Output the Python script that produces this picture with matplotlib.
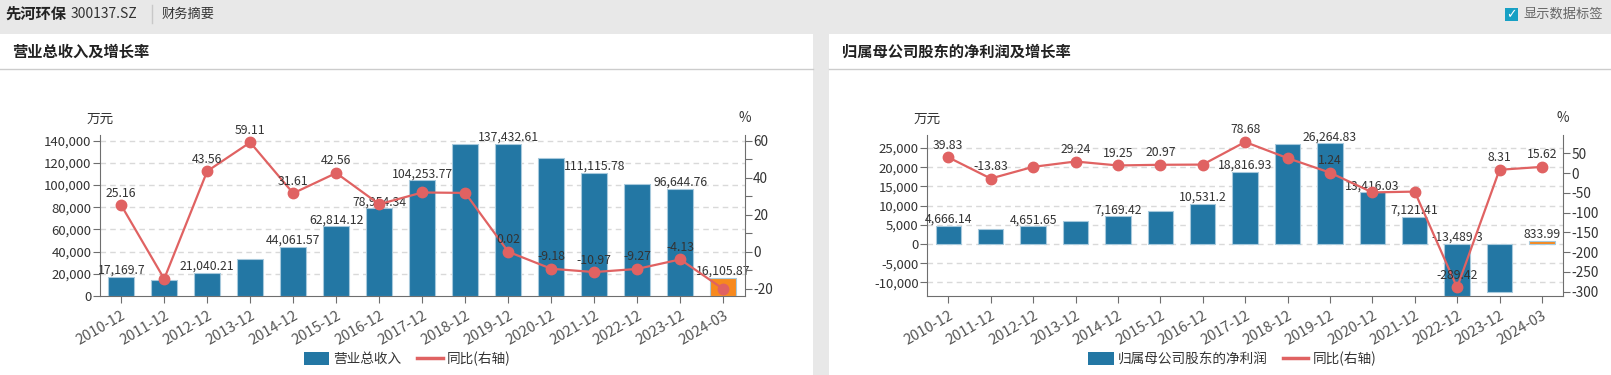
import matplotlib
matplotlib.use("Agg")
import matplotlib.pyplot as plt
from matplotlib.patches import Rectangle, Patch
from matplotlib.lines import Line2D

plt.rcParams['font.family'] = ['Noto Sans CJK SC', 'DejaVu Sans']
plt.rcParams['axes.unicode_minus'] = False

# ---- data ----
periods = ['2010-12', '2011-12', '2012-12', '2013-12', '2014-12', '2015-12', '2016-12', '2017-12',
           '2018-12', '2019-12', '2020-12', '2021-12', '2022-12', '2023-12', '2024-03']

revenue = [17169.7, 14656.0, 21040.21, 33477.0, 44061.57, 62814.12, 78954.34, 104253.77,
           137405.0, 137432.61, 124818.0, 111115.78, 100815.0, 96644.76, 16105.87]
revenue_yoy = [25.16, -14.64, 43.56, 59.11, 31.61, 42.56, 25.7, 32.04,
               31.8, 0.02, -9.18, -10.97, -9.27, -4.13, -20.1]

profit = [4666.14, 4020.8, 4651.65, 6011.8, 7169.42, 8672.8, 10531.2, 18816.93,
          25943.0, 26264.83, 13416.03, 7121.41, -13489.3, -12368.3, 833.99]
profit_yoy = [39.83, -13.83, 15.69, 29.24, 19.25, 20.97, 21.43, 78.68,
              37.87, 1.24, -48.92, -46.92, -289.42, 8.31, 15.62]

# which data labels are visible in the original (others hidden by overlap)
revenue_labels_on = [0, 2, 4, 5, 6, 7, 9, 11, 13, 14]
revenue_yoy_labels_on = [0, 2, 3, 4, 5, 9, 10, 11, 12, 13]
profit_labels_on = [0, 2, 4, 6, 7, 9, 10, 11, 12, 14]
profit_yoy_labels_on = [0, 1, 3, 4, 5, 7, 9, 12, 13, 14]

BG = '#e8e8e8'
BLUE = '#2377a4'
ORANGE = '#f7891e'
RED = '#e06262'
TXT = '#333333'
AXC = '#6e6e6e'

W, H = 1611, 375
fig = plt.figure(figsize=(W / 100, H / 100), dpi=100, facecolor=BG)


def fx(px):
    return px / W


def fy(py):
    return 1 - py / H


# panels
for x0, x1 in [(0, 813), (829, 1611)]:
    fig.add_artist(Rectangle((fx(x0), 0), fx(x1 - x0), fy(34), transform=fig.transFigure,
                             facecolor='white', edgecolor='none', zorder=0))
    fig.add_artist(Line2D([fx(x0), fx(x1)], [fy(69.3), fy(69.3)], transform=fig.transFigure,
                          color='#cccccc', lw=1, zorder=1))

# header
fig.text(fx(5), fy(14), '先河环保', fontsize=11, fontweight='bold', color='#222', va='center')
fig.text(fx(71), fy(14), '300137.SZ', fontsize=10, color='#333', va='center')
fig.add_artist(Line2D([fx(152), fx(152)], [fy(5), fy(23)], transform=fig.transFigure,
                      color='#c8c8c8', lw=1))
fig.text(fx(162), fy(14), '财务摘要', fontsize=9.5, color='#333', va='center')
fig.add_artist(Rectangle((fx(1505), fy(21)), fx(13), fy(8) - fy(21), transform=fig.transFigure,
                         facecolor='#17a0c4', edgecolor='none'))
fig.text(fx(1511.5), fy(14.5), '✓', fontsize=9, color='white', fontweight='bold',
         ha='center', va='center', family=['DejaVu Sans'])
fig.text(fx(1523), fy(14), '显示数据标签', fontsize=9.5, color='#666', va='center')

fig.text(fx(12), fy(52), '营业总收入及增长率', fontsize=11, fontweight='bold', color='#222', va='center')
fig.text(fx(842), fy(52), '归属母公司股东的净利润及增长率', fontsize=11, fontweight='bold', color='#222',
         va='center')


def fmt_num(v):
    return f'{v:,}'


def draw_chart(left_px, right_px, values, yoy, ylim, ylim2, yticks, y2ticks, y2labels,
               lab_on, yoy_on, legend_name, legend_cx):
    bottom_px, top_px = 296, 135
    ax = fig.add_axes([fx(left_px), fy(bottom_px), fx(right_px - left_px), (bottom_px - top_px) / H])
    ax.set_facecolor('none')
    x = list(range(len(periods)))
    colors = [ORANGE if p.endswith('-03') else BLUE for p in periods]
    ax.bar(x, values, width=0.6, color=colors, edgecolor='#a7c9dc', linewidth=0.8, zorder=3)
    ax.set_xlim(-0.5, len(periods) - 0.5)
    ax.set_ylim(*ylim)
    ax.set_yticks(yticks)
    ax.set_yticklabels([f'{int(t):,}' for t in yticks])
    for t in yticks:
        if t != 0 or ylim[0] < 0:
            ax.axhline(t, color='#d9d9d9', lw=1, ls=(0, (4, 3)), zorder=1)
    ax.set_xticks(x)
    ax.set_xticklabels(periods, rotation=30, ha='right', va='top', rotation_mode='anchor')
    ax.tick_params(axis='x', length=5, color=AXC, labelsize=10.5, labelcolor='#555', pad=4)
    ax.tick_params(axis='y', length=5, color=AXC, labelsize=9.5, labelcolor=TXT, pad=1)
    for s in ['top', 'right']:
        ax.spines[s].set_visible(False)
    for s in ['left', 'bottom']:
        ax.spines[s].set_color(AXC)
    for i in lab_on:
        v = values[i]
        ax.annotate(fmt_num(v), (i, max(v, 0)), xytext=(0, 0), textcoords='offset points',
                    ha='center', va='bottom', fontsize=8.8, color=TXT, zorder=5)

    ax2 = ax.twinx()
    ax2.plot(x, yoy, color=RED, lw=1.6, marker='o', markersize=7.5, zorder=4)
    ax2.set_ylim(*ylim2)
    ax2.set_yticks(y2ticks)
    ax2.set_yticklabels(y2labels)
    ax2.tick_params(axis='y', length=5, color=AXC, labelsize=9.8, labelcolor=TXT, pad=1)
    for s in ['top', 'left', 'bottom']:
        ax2.spines[s].set_visible(False)
    ax2.spines['right'].set_color(AXC)
    for i in yoy_on:
        ax2.annotate(str(yoy[i]), (i, yoy[i]), xytext=(0, 4), textcoords='offset points',
                     ha='center', va='bottom', fontsize=8.8, color=TXT, zorder=6)

    fig.text(fx(left_px), fy(119), '万元', fontsize=9.8, color=TXT, ha='center', va='center')
    fig.text(fx(right_px), fy(118), '%', fontsize=9.8, color=TXT, ha='center', va='center')

    handles = [Patch(facecolor=BLUE, edgecolor='none'), Line2D([], [], color=RED, lw=2.5)]
    fig.legend(handles, [legend_name, '同比(右轴)'], loc='center', ncol=2, frameon=False,
               bbox_to_anchor=(fx(legend_cx), fy(359)), fontsize=9.8, labelcolor=TXT,
               handlelength=1.9, handleheight=1.05, handletextpad=0.3, columnspacing=1.1)


draw_chart(99.7, 744.7, revenue, revenue_yoy, (0, 145100), (-23.9, 63.1),
           list(range(0, 140001, 20000)), list(range(-20, 61, 10)),
           ['-20', '', '0', '', '20', '', '40', '', '60'],
           revenue_labels_on, revenue_yoy_labels_on, '营业总收入', 407)

draw_chart(927.1, 1563.1, profit, profit_yoy, (-13540, 28390), (-311, 96.3),
           list(range(-10000, 25001, 5000)), list(range(-300, 51, 50)),
           [str(t) for t in range(-300, 51, 50)],
           profit_labels_on, profit_yoy_labels_on, '归属母公司股东的净利润', 1232)

fig.savefig('out.png', dpi=100, facecolor=BG)
